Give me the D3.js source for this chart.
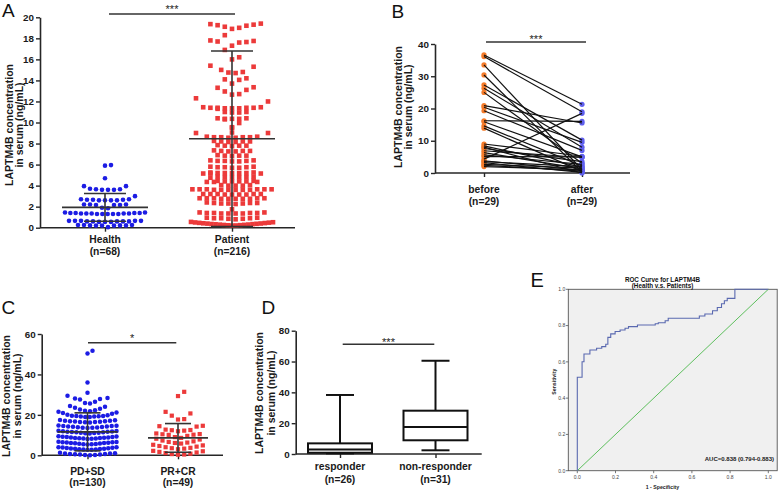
<!DOCTYPE html>
<html><head><meta charset="utf-8">
<script src="https://cdn.jsdelivr.net/npm/d3@7"></script>
<style>body{margin:0;background:#fff} svg{display:block} text{font-family:"Liberation Sans",Arial,sans-serif}</style>
</head><body><svg id="c" width="778" height="500"></svg>
<script>
// ---------- Panel A data ----------
const aGroups = ["Health", "Patient"];
const aLabels = ["(n=68)", "(n=216)"];
const aTicks = [0, 2, 4, 6, 8, 10, 12, 14, 16, 18, 20];
const healthVals = [0.05, 0.2, 0.2, 0.2, 0.22, 0.22, 0.22, 0.25, 0.25, 0.25,
  0.55, 0.55, 0.55, 0.6, 0.6, 0.6, 0.6, 0.6, 0.65, 0.65, 0.65, 0.65, 0.65,
  1.3, 1.3, 1.3, 1.3, 1.3, 1.35, 1.35, 1.35, 1.35, 1.35, 1.4, 1.4, 1.4, 1.4, 1.45, 1.45,
  1.85, 1.9,
  2.15, 2.15, 2.15, 2.2, 2.2, 2.2,
  2.6, 2.6, 2.6, 2.6, 2.65, 2.65, 2.65, 2.7, 2.7,
  3.0,
  3.6, 3.6, 3.6, 3.65, 3.65, 3.7, 3.95, 3.95,
  4.7, 5.9, 5.95];
const patientVals = [
  0.2, 0.21, 0.23, 0.24, 0.26, 0.27, 0.29, 0.3, 0.32, 0.34, 0.35, 0.37, 0.39, 0.4, 0.42, 0.44, 0.46, 0.48, 0.5, 0.52, 0.55,
  0.95, 0.95, 0.9, 0.9, 0.9, 0.85, 0.85, 0.8,
  1.45, 1.45, 1.4, 1.4, 1.4, 1.4, 1.35, 1.35, 1.35, 1.35,
  1.75,
  2.4, 2.35, 2.35, 2.35, 2.3, 2.3, 2.3, 2.25,
  2.8, 2.8, 2.8, 2.8, 2.8, 2.75, 2.75, 2.75, 2.75, 2.75,
  3.2, 3.2, 3.2, 3.2, 3.2, 3.15, 3.15, 3.15, 3.15,
  3.65, 3.65, 3.65, 3.65, 3.65, 3.65, 3.6, 3.6, 3.6, 3.6, 3.6, 3.6,
  4.05, 4.05, 4.0, 4.0, 4.0,
  4.45, 4.45, 4.4, 4.4, 4.4, 4.4, 4.35, 4.35, 4.35,
  4.85, 4.85, 4.8, 4.8, 4.8, 4.8, 4.75,
  5.25, 5.25, 5.2, 5.2, 5.2, 5.2, 5.2, 5.15, 5.15, 5.15,
  5.8, 5.8, 5.75, 5.75, 5.75, 5.7, 5.7,
  6.4, 6.4, 6.35, 6.35, 6.35, 6.3, 6.3,
  6.9, 6.85, 6.85, 6.85, 6.8,
  7.35, 7.3, 7.3, 7.3, 7.25, 7.25,
  7.85, 7.8, 7.8, 7.8, 7.75,
  8.25, 8.2, 8.2, 8.2, 8.15, 8.15,
  8.65, 8.65, 8.6, 8.6, 8.6, 8.6, 8.55, 8.55,
  9.05, 9.0, 9.0,
  9.5, 9.55, 9.95,
  10.4, 10.4, 10.35, 10.35, 10.35, 10.3,
  11.0, 11.0, 10.95, 10.95,
  11.45, 11.45, 11.4, 11.4, 11.4, 11.4, 11.35, 11.35, 11.35, 11.3,
  12.0, 12.3, 12.65, 12.7, 12.95, 13.1, 13.3, 13.35, 13.7, 14.05, 14.1, 14.2,
  14.7, 14.75, 14.8, 15.0, 15.3, 15.4, 16.0, 16.2, 16.9, 17.3,
  17.6, 17.65, 17.7, 17.75, 17.8, 18.3,
  18.9, 19.0, 19.1, 19.2, 19.25, 19.3, 19.35, 19.4];
const aMean = [1.93, 8.45];
const aSD = [1.32, 8.35];

// ---------- Panel B data ----------
const bGroups = ["before", "after"];
const bLabels = ["(n=29)", "(n=29)"];
const bTicks = [0, 10, 20, 30, 40];
const bBefore = [36.6, 36.1, 33.5, 30.4, 27.3, 26.3, 25.0, 20.9, 20.4, 19.3, 16.2, 15.9, 14.6, 13.9,
  9.0, 8.4, 8.0, 7.6, 6.9, 6.3, 5.6, 5.1, 4.3, 3.8, 3.5, 3.2, 2.7, 2.4, 2.0];
const bAfter = [21.3, 19.0, 1.0, 0.3, 10.2, 8.0, 3.0, 15.5, 9.5, 7.0, 16.0, 5.0, 2.2, 0.5,
  5.2, 1.8, 0.0, 3.5, 4.8, 1.3, 2.7, 5.0, 18.5, 0.8, 2.0, 0.2, 1.5, 0.6, 1.0];

// ---------- Panel C data ----------
const cGroups = ["PD+SD", "PR+CR"];
const cLabels = ["(n=130)", "(n=49)"];
const cTicks = [0, 20, 40, 60];
const cPD = [
  0.0, 0.1, 0.2, 0.35, 0.4, 0.5, 0.65, 0.7, 0.85, 0.9, 1.05, 1.2,
  2.7, 2.8, 2.85, 2.9, 3.05, 3.1, 3.2, 3.3, 3.4, 3.5, 3.65, 3.7, 3.8, 3.95, 4.0,
  5.4, 5.45, 5.5, 5.65, 5.7, 5.8, 5.9, 6.05, 6.1, 6.2, 6.3, 6.4, 6.5, 6.6, 6.7,
  8.1, 8.15, 8.25, 8.3, 8.4, 8.5, 8.55, 8.7, 8.8, 8.85, 9.0, 9.1, 9.2, 9.3, 9.4,
  10.8, 10.9, 11.05, 11.1, 11.2, 11.35, 11.4, 11.5, 11.65, 11.7, 11.8, 11.95, 12.0, 12.2,
  13.5, 13.6, 13.65, 13.8, 13.9, 14.0, 14.15, 14.2, 14.3, 14.45, 14.5, 14.6, 14.8,
  16.2, 16.3, 16.45, 16.5, 16.6, 16.75, 16.8, 16.9, 17.05, 17.1, 17.3, 17.5,
  18.9, 19.0, 19.15, 19.2, 19.3, 19.45, 19.5, 19.6, 19.8, 20.0,
  20.6, 20.9, 21.2, 21.5, 21.8, 22.0, 22.3, 22.6, 23.0, 23.5, 24.0, 24.4,
  25.6, 25.9, 26.5, 27.6, 27.9, 28.1, 28.4, 29.4, 30.9, 36.0, 50.4, 51.7];
const cPR = [0.3, 0.4, 0.6, 0.8, 1.1, 1.4, 1.7, 2.0, 2.2,
  3.0, 3.3, 3.5, 3.7, 4.0, 4.3, 4.6, 4.9, 5.2,
  5.8, 6.1, 6.3, 6.6, 6.9, 7.3, 7.8, 8.2,
  8.6, 9.0, 9.6, 10.1, 10.2, 10.4, 10.5, 10.8,
  11.9, 12.2, 12.4, 12.5, 12.7, 14.2,
  14.4, 14.6,
  17.7, 17.9, 19.6, 20.7, 21.5, 29.3, 31.4];
const cMean = [11.6, 8.6];
const cSD = [9.4, 7.1];

// ---------- Panel D data ----------
const dGroups = ["responder", "non-responder"];
const dLabels = ["(n=26)", "(n=31)"];
const dTicks = [0, 20, 40, 60, 80];
const dMin = [0.4, 2.4];
const dQ1 = [0.8, 8.9];
const dMed = [3.0, 17.5];
const dQ3 = [6.9, 28.1];
const dMax = [38.3, 60.5];

// ---------- Panel E data ----------
const rocFPR = [0, 0, 0.025, 0.035, 0.066, 0.101, 0.128, 0.149, 0.16, 0.175, 0.198, 0.224, 0.25, 0.268, 0.315,
  0.408, 0.424, 0.46, 0.476, 0.639, 0.668, 0.708, 0.733, 0.755, 0.77, 0.785, 0.825, 0.825, 1.0];
const rocTPR = [0, 0.515, 0.601, 0.643, 0.665, 0.675, 0.684, 0.697, 0.735, 0.754, 0.767, 0.776, 0.785, 0.794, 0.803,
  0.81, 0.816, 0.827, 0.84, 0.853, 0.864, 0.882, 0.9, 0.92, 0.937, 0.95, 0.96, 1.0, 1.0];
const eTicks = [0, 0.2, 0.4, 0.6, 0.8, 1.0];

// ================= drawing =================
const svg = d3.select("#c");
svg.append("rect").attr("width", 778).attr("height", 500).attr("fill", "#fff");
const AX = "#262626";
const BLUE = "#1c1ce4", RED = "#ec3a3a";

// GraphPad-like column scatter: rows of near-equal values are spread side by side;
// sparse values are pushed sideways when they would overlap an already placed point.
function swarm(vals, y, cx, o) {
  const s = vals.slice().sort((a, b) => a - b);
  const rows = []; let cur = null;
  for (const v of s) {
    const py = y(v);
    if (!cur || cur.p0 - py > o.rowPx) { cur = { p0: py, vs: [] }; rows.push(cur); }
    cur.vs.push(v);
  }
  const placed = [];
  const K = Math.floor(o.maxW / 2 / o.spacing);
  const slots = [0];
  for (let k = 1; k <= K; k++) slots.push(k, -k);
  for (const r of rows) {
    const n = r.vs.length;
    if (n <= 3) {
      r.vs.forEach(v => {
        const py = y(v);
        let dx = 0;
        for (const k of slots) {
          const x = k * o.spacing;
          if (!placed.some(p => Math.abs(p.y - py) < o.coll && Math.abs(p.dx - x) < o.spacing * 0.9)) { dx = x; break; }
        }
        placed.push({ v, dx, y: py });
      });
    } else {
      const sp = Math.min(o.spacing, o.maxW / (n - 1));
      const pos = d3.range(n).map(k => (k - (n - 1) / 2) * sp)
        .sort((a, b) => Math.abs(a) - Math.abs(b) || b - a);
      r.vs.forEach((v, i) => placed.push({ v, dx: pos[i], y: y(v) }));
    }
  }
  return placed.map(p => ({ v: p.v, x: cx + p.dx, y: p.y }));
}

function axes(y, ticks, x0, x1, xs) {
  const g = svg.append("g");
  g.append("g").attr("transform", `translate(${x0},0)`)
    .call(d3.axisLeft(y).tickValues(ticks).tickSize(4).tickPadding(2).tickSizeOuter(0));
  const xa = g.append("g").attr("transform", `translate(0,${y(0)})`)
    .call(d3.axisBottom(xs).tickSize(4).tickFormat("").tickSizeOuter(0));
  xa.select(".domain").remove();
  g.append("line").attr("x1", x0).attr("x2", x1).attr("y1", y(0)).attr("y2", y(0))
    .attr("stroke", AX).attr("stroke-width", 1.6);
  g.selectAll(".domain").attr("stroke", AX).attr("stroke-width", 1.6);
  g.selectAll(".tick line").attr("stroke", AX).attr("stroke-width", 1.4);
  g.selectAll(".tick text").attr("font-family", "Liberation Sans, Arial, sans-serif")
    .attr("font-size", 9.8).attr("font-weight", "bold").attr("fill", "#1a1a1a");
  return g;
}

function ytitle(x1, x2, cy) {
  [["LAPTM4B concentration", x1], ["in serum (ng/mL)", x2]].forEach(([t, x]) => {
    svg.append("text").attr("transform", `translate(${x},${cy}) rotate(-90)`)
      .attr("text-anchor", "middle").attr("font-size", 10.5).attr("font-weight", "bold")
      .attr("fill", "#1a1a1a").text(t);
  });
}

function catLabels(xs, groups, labels, b1, b2) {
  groups.forEach((gname, i) => {
    svg.append("text").attr("x", xs(gname)).attr("y", b1).attr("text-anchor", "middle")
      .attr("font-size", 10.3).attr("font-weight", "bold").attr("fill", "#1a1a1a").text(gname);
    svg.append("text").attr("x", xs(gname)).attr("y", b2).attr("text-anchor", "middle")
      .attr("font-size", 10.3).attr("font-weight", "bold").attr("fill", "#1a1a1a").text(labels[i]);
  });
}

function sig(x1, x2, y, stars, by) {
  svg.append("line").attr("x1", x1).attr("x2", x2).attr("y1", y).attr("y2", y)
    .attr("stroke", "#333").attr("stroke-width", 1.5);
  svg.append("text").attr("x", (x1 + x2) / 2).attr("y", by).attr("text-anchor", "middle")
    .attr("font-size", 11).attr("fill", "#222").text(stars);
}

function letter(t, x, y, fs) {
  svg.append("text").attr("x", x).attr("y", y).attr("font-size", fs || 19).attr("fill", "#111").text(t);
}

function meanSD(xc, y, m, sd, mw, cw) {
  const g = svg.append("g").attr("stroke", "#333").attr("stroke-width", 1.6);
  const lo = y(Math.max(0, m - sd)), hi = y(m + sd);
  g.append("line").attr("x1", xc - mw / 2).attr("x2", xc + mw / 2).attr("y1", y(m)).attr("y2", y(m));
  g.append("line").attr("x1", xc).attr("x2", xc).attr("y1", lo).attr("y2", hi);
  g.append("line").attr("x1", xc - cw / 2).attr("x2", xc + cw / 2).attr("y1", hi).attr("y2", hi);
  g.append("line").attr("x1", xc - cw / 2).attr("x2", xc + cw / 2).attr("y1", lo).attr("y2", lo);
}

// ---------- Panel A ----------
{
  const y = d3.scaleLinear().domain([0, 20]).range([227.7, 17.3]);
  const x = d3.scalePoint().domain(aGroups).range([105, 232]);
  axes(y, aTicks, 40, 295, x);
  const hp = swarm(healthVals, y, x("Health"), { rowPx: 4.0, spacing: 6, maxW: 80, coll: 6 });
  svg.append("g").selectAll("circle").data(hp).join("circle")
    .attr("cx", d => d.x).attr("cy", d => d.y).attr("r", 2.3).attr("fill", BLUE);
  const pp = swarm(patientVals, y, x("Patient"), { rowPx: 4.0, spacing: 7.2, maxW: 82, coll: 11 });
  svg.append("g").selectAll("rect").data(pp).join("rect")
    .attr("x", d => d.x - 2.3).attr("y", d => d.y - 2.3).attr("width", 4.6).attr("height", 4.6).attr("fill", RED);
  aGroups.forEach((gname, i) => meanSD(x(gname), y, aMean[i], aSD[i], 86, 42));
  catLabels(x, aGroups, aLabels, 243, 254.5);
  ytitle(13, 23, 125);
  sig(109, 235, 14, "***", 13.4);
  letter("A", 2, 17);
}

// ---------- Panel B ----------
{
  const y = d3.scaleLinear().domain([0, 40]).range([173, 44]);
  const x = d3.scalePoint().domain(bGroups).range([484, 582]);
  axes(y, bTicks, 435, 630, x);
  svg.append("g").selectAll("circle").data(bBefore).join("circle")
    .attr("cx", x("before")).attr("cy", d => y(d)).attr("r", 2.6).attr("fill", "#f47b2a");
  svg.append("g").selectAll("circle").data(bAfter).join("circle")
    .attr("cx", x("after")).attr("cy", d => y(d)).attr("r", 2.6).attr("fill", "#5f5fee");
  svg.append("g").selectAll("line").data(bBefore).join("line")
    .attr("x1", x("before")).attr("x2", x("after"))
    .attr("y1", d => y(d)).attr("y2", (d, i) => y(bAfter[i]))
    .attr("stroke", "#111").attr("stroke-width", 1.2);
  catLabels(x, bGroups, bLabels, 193, 204.5);
  ytitle(401.5, 412, 107);
  sig(486, 586, 42, "***", 42.8);
  letter("B", 391.5, 17.5);
}

// ---------- Panel C ----------
{
  const y = d3.scaleLinear().domain([0, 60]).range([455.3, 334]);
  const x = d3.scalePoint().domain(cGroups).range([87.5, 178]);
  axes(y, cTicks, 41.7, 223, x);
  const pd = swarm(cPD, y, x("PD+SD"), { rowPx: 5.3, spacing: 5, maxW: 58, coll: 8 });
  svg.append("g").selectAll("circle").data(pd).join("circle")
    .attr("cx", d => d.x).attr("cy", d => d.y).attr("r", 2.25).attr("fill", BLUE);
  const pr = swarm(cPR, y, x("PR+CR"), { rowPx: 5.3, spacing: 6.2, maxW: 58, coll: 8 });
  svg.append("g").selectAll("rect").data(pr).join("rect")
    .attr("x", d => d.x - 2.1).attr("y", d => d.y - 2.1).attr("width", 4.2).attr("height", 4.2).attr("fill", RED);
  cGroups.forEach((gname, i) => meanSD(x(gname), y, cMean[i], cSD[i], 60, 26));
  catLabels(x, cGroups, cLabels, 475, 485.5);
  ytitle(10, 21, 396);
  sig(88, 176.3, 342.7, "*", 342);
  letter("C", 1.5, 314);
}

// ---------- Panel D ----------
{
  const y = d3.scaleLinear().domain([0, 80]).range([454, 330.7]);
  const x = d3.scalePoint().domain(dGroups).range([340, 435.5]);
  axes(y, dTicks, 295.7, 481.7, x);
  const g = svg.append("g").attr("stroke", "#111").attr("stroke-width", 2).attr("fill", "#fff");
  dGroups.forEach((gname, i) => {
    const cx = x(gname), bw = 64, cw = 28;
    g.append("line").attr("x1", cx).attr("x2", cx).attr("y1", y(dMax[i])).attr("y2", y(dQ3[i]));
    g.append("line").attr("x1", cx).attr("x2", cx).attr("y1", y(dQ1[i])).attr("y2", y(dMin[i]));
    g.append("line").attr("x1", cx - cw / 2).attr("x2", cx + cw / 2).attr("y1", y(dMax[i])).attr("y2", y(dMax[i]));
    g.append("line").attr("x1", cx - cw / 2).attr("x2", cx + cw / 2).attr("y1", y(dMin[i])).attr("y2", y(dMin[i]));
    g.append("rect").attr("x", cx - bw / 2).attr("y", y(dQ3[i])).attr("width", bw).attr("height", y(dQ1[i]) - y(dQ3[i]));
    g.append("line").attr("x1", cx - bw / 2).attr("x2", cx + bw / 2).attr("y1", y(dMed[i])).attr("y2", y(dMed[i]));
  });
  catLabels(x, dGroups, dLabels, 470, 483);
  ytitle(263, 275, 393);
  sig(342.7, 434.3, 344.3, "***", 346.4);
  letter("D", 261.5, 314);
}

// ---------- Panel E ----------
{
  const x = d3.scaleLinear().domain([0, 1]).range([577.3, 768.3]);
  const y = d3.scaleLinear().domain([0, 1]).range([470.7, 289.3]);
  const L = 568.3, R = 777.2;
  svg.append("rect").attr("x", L).attr("y", y(1)).attr("width", R - L).attr("height", y(0) - y(1))
    .attr("fill", "#f0f0f0").attr("stroke", "#555").attr("stroke-width", 0.9);
  const tk = svg.append("g").attr("stroke", "#555").attr("stroke-width", 0.8);
  eTicks.forEach(t => {
    tk.append("line").attr("x1", x(t)).attr("x2", x(t)).attr("y1", y(0)).attr("y2", y(0) + 2.5);
    tk.append("line").attr("x1", L - 2.5).attr("x2", L).attr("y1", y(t)).attr("y2", y(t));
  });
  const lab = svg.append("g").attr("font-size", 5).attr("fill", "#444");
  eTicks.forEach(t => {
    lab.append("text").attr("x", x(t)).attr("y", y(0) + 8).attr("text-anchor", "middle").text(d3.format(".1f")(t));
    lab.append("text").attr("x", L - 3).attr("y", y(t) + 1.8).attr("text-anchor", "end").text(d3.format(".1f")(t));
  });
  svg.append("line").attr("x1", x(0)).attr("y1", y(0)).attr("x2", x(1)).attr("y2", y(1))
    .attr("stroke", "#5dbf5d").attr("stroke-width", 1);
  const pts = rocFPR.map((f, i) => [f, rocTPR[i]]);
  svg.append("path").attr("d", d3.line().x(d => x(d[0])).y(d => y(d[1])).curve(d3.curveStepAfter)(pts))
    .attr("fill", "none").attr("stroke", "#5a69b0").attr("stroke-width", 1.1);
  svg.append("text").attr("x", 662.5).attr("y", 282.2).attr("text-anchor", "middle")
    .attr("font-size", 6.3).attr("font-weight", "bold").attr("fill", "#111").text("ROC Curve for LAPTM4B");
  svg.append("text").attr("x", 662.5).attr("y", 288.4).attr("text-anchor", "middle")
    .attr("font-size", 6.3).attr("font-weight", "bold").attr("fill", "#111").text("(Health v.s. Patients)");
  svg.append("text").attr("x", 662.5).attr("y", 488.5).attr("text-anchor", "middle")
    .attr("font-size", 5.2).attr("font-weight", "bold").attr("fill", "#222").text("1 - Specificity");
  svg.append("text").attr("transform", "translate(555.5,381.7) rotate(-90)").attr("text-anchor", "middle")
    .attr("font-size", 5.2).attr("font-weight", "bold").attr("fill", "#222").text("Sensitivity");
  svg.append("text").attr("x", 774).attr("y", 461).attr("text-anchor", "end")
    .attr("font-size", 6).attr("font-weight", "bold").attr("fill", "#222").text("AUC=0.838 (0.794-0.883)");
  letter("E", 530.5, 287, 20);
}
</script></body></html>
